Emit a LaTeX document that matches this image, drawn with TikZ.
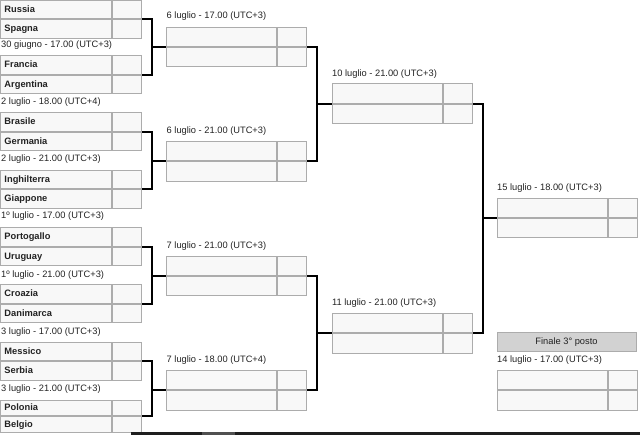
\documentclass[tikz,border=0pt]{standalone}
\usepackage{fontspec}
\setmainfont{Liberation Sans}
\definecolor{cellfill}{RGB}{248,248,248}
\definecolor{cellborder}{RGB}{172,172,172}
\definecolor{hdrfill}{RGB}{210,210,210}
\definecolor{txt}{RGB}{34,34,34}
\definecolor{bardark}{RGB}{30,30,30}
\definecolor{barlight}{RGB}{80,80,80}
\tikzset{
  cell/.style={draw=cellborder, fill=cellfill, line width=1pt, rectangle, inner ysep=0pt, anchor=north west},
  teamcell/.style={cell, inner xsep=4pt, align=left, text height=7pt, text depth=2pt,
    font=\fontsize{9.3}{11}\selectfont\bfseries, text=txt},
  scorecell/.style={cell, inner xsep=0pt, minimum width=29pt},
  datelabel/.style={anchor=west, inner sep=0pt, text height=7pt, text depth=2pt,
    font=\fontsize{9.3}{11}\selectfont, text=txt},
  conn/.style={draw=black, line width=2pt},
  hdr/.style={draw=cellborder, fill=hdrfill, line width=1pt, rectangle, anchor=north west,
    minimum width=139pt, minimum height=18.7pt, inner sep=0pt,
    font=\fontsize{9.3}{11}\selectfont, text=txt}
}
% name, x, top, row height, team width, team A, team B
\newcommand\brmatch[7]{%
  \node[teamcell, text width=#5pt-8pt, minimum height=#4pt] (#1a) at (#2,#3) {#6};
  \node[scorecell, minimum height=#4pt] (#1as) at (#1a.north east) {};
  \node[teamcell, text width=#5pt-8pt, minimum height=#4pt] (#1b) at (#1a.south west) {#7};
  \node[scorecell, minimum height=#4pt] (#1bs) at (#1a.south east) {};
}
\begin{document}
\begin{tikzpicture}[x=1pt,y=-1pt]
\useasboundingbox (0,0) rectangle (640,435);
% first round
\brmatch{m1}{0}{0}{18.5}{111}{Russia}{Spagna}
\brmatch{m2}{0}{55.5}{18.5}{111}{Francia}{Argentina}
\brmatch{m3}{0}{112.5}{18.5}{111}{Brasile}{Germania}
\brmatch{m4}{0}{170}{18.5}{111}{Inghilterra}{Giappone}
\brmatch{m5}{0}{227.5}{18.5}{111}{Portogallo}{Uruguay}
\brmatch{m6}{0}{284.5}{18.5}{111}{Croazia}{Danimarca}
\brmatch{m7}{0}{342}{18.5}{111}{Messico}{Serbia}
\brmatch{m8}{0}{400}{15.4}{111}{Polonia}{Belgio}
% quarter finals
\brmatch{q1}{166}{26.7}{19.2}{110}{}{}
\brmatch{q2}{166}{141.3}{19.2}{110}{}{}
\brmatch{q3}{166}{255.7}{19.2}{110}{}{}
\brmatch{q4}{166}{370.3}{19.2}{110}{}{}
% semi finals
\brmatch{s1}{331.5}{83.5}{19.2}{110}{}{}
\brmatch{s2}{331.5}{313.3}{19.2}{110}{}{}
% final and third place
\brmatch{f1}{496.5}{198}{19.2}{110}{}{}
\node[hdr] (hdr3) at (496.5,332.3) {Finale 3° posto};
\brmatch{t1}{496.5}{370.3}{19.2}{110}{}{}
% date labels
\node[datelabel] (d1) at (1,45) {30 giugno - 17.00 (UTC+3)};
\node[datelabel] (d2) at (1,102) {2 luglio - 18.00 (UTC+4)};
\node[datelabel] (d3) at (1,159) {2 luglio - 21.00 (UTC+3)};
\node[datelabel] (d4) at (1,216.5) {1º luglio - 17.00 (UTC+3)};
\node[datelabel] (d5) at (1,275) {1º luglio - 21.00 (UTC+3)};
\node[datelabel] (d6) at (1,332) {3 luglio - 17.00 (UTC+3)};
\node[datelabel] (d7) at (1,389) {3 luglio - 21.00 (UTC+3)};
\node[datelabel] (dq1) at (166.5,16.5) {6 luglio - 17.00 (UTC+3)};
\node[datelabel] (dq2) at (166.5,131) {6 luglio - 21.00 (UTC+3)};
\node[datelabel] (dq3) at (166.5,245.7) {7 luglio - 21.00 (UTC+3)};
\node[datelabel] (dq4) at (166.5,360) {7 luglio - 18.00 (UTC+4)};
\node[datelabel] (ds1) at (332,74) {10 luglio - 21.00 (UTC+3)};
\node[datelabel] (ds2) at (332,303) {11 luglio - 21.00 (UTC+3)};
\node[datelabel] (df1) at (497,188) {15 luglio - 18.00 (UTC+3)};
\node[datelabel] (dt1) at (497,360.5) {14 luglio - 17.00 (UTC+3)};
% connectors round 1 -> QF
\draw[conn] (m1as.south east) -- ++(10,0) coordinate (j1) |- (m2as.south east);
\draw[conn] (q1a.south west -| j1) -- (q1a.south west);
\draw[conn] (m3as.south east) -- ++(10,0) coordinate (j2) |- (m4as.south east);
\draw[conn] (q2a.south west -| j2) -- (q2a.south west);
\draw[conn] (m5as.south east) -- ++(10,0) coordinate (j3) |- (m6as.south east);
\draw[conn] (q3a.south west -| j3) -- (q3a.south west);
\draw[conn] (m7as.south east) -- ++(10,0) coordinate (j4) |- (m8as.south east);
\draw[conn] (q4a.south west -| j4) -- (q4a.south west);
% QF -> SF
\draw[conn] (q1as.south east) -- ++(10,0) coordinate (k1) |- (q2as.south east);
\draw[conn] (s1a.south west -| k1) -- (s1a.south west);
\draw[conn] (q3as.south east) -- ++(10,0) coordinate (k2) |- (q4as.south east);
\draw[conn] (s2a.south west -| k2) -- (s2a.south west);
% SF -> final
\draw[conn] (s1as.south east) -- ++(10,0) coordinate (l1) |- (s2as.south east);
\draw[conn] (f1a.south west -| l1) -- (f1a.south west);
% scrollbar at the bottom
\fill[bardark] (131,431.7) rectangle (640,435);
\fill[barlight] (202,431.7) rectangle (235,435);
\end{tikzpicture}
\end{document}
